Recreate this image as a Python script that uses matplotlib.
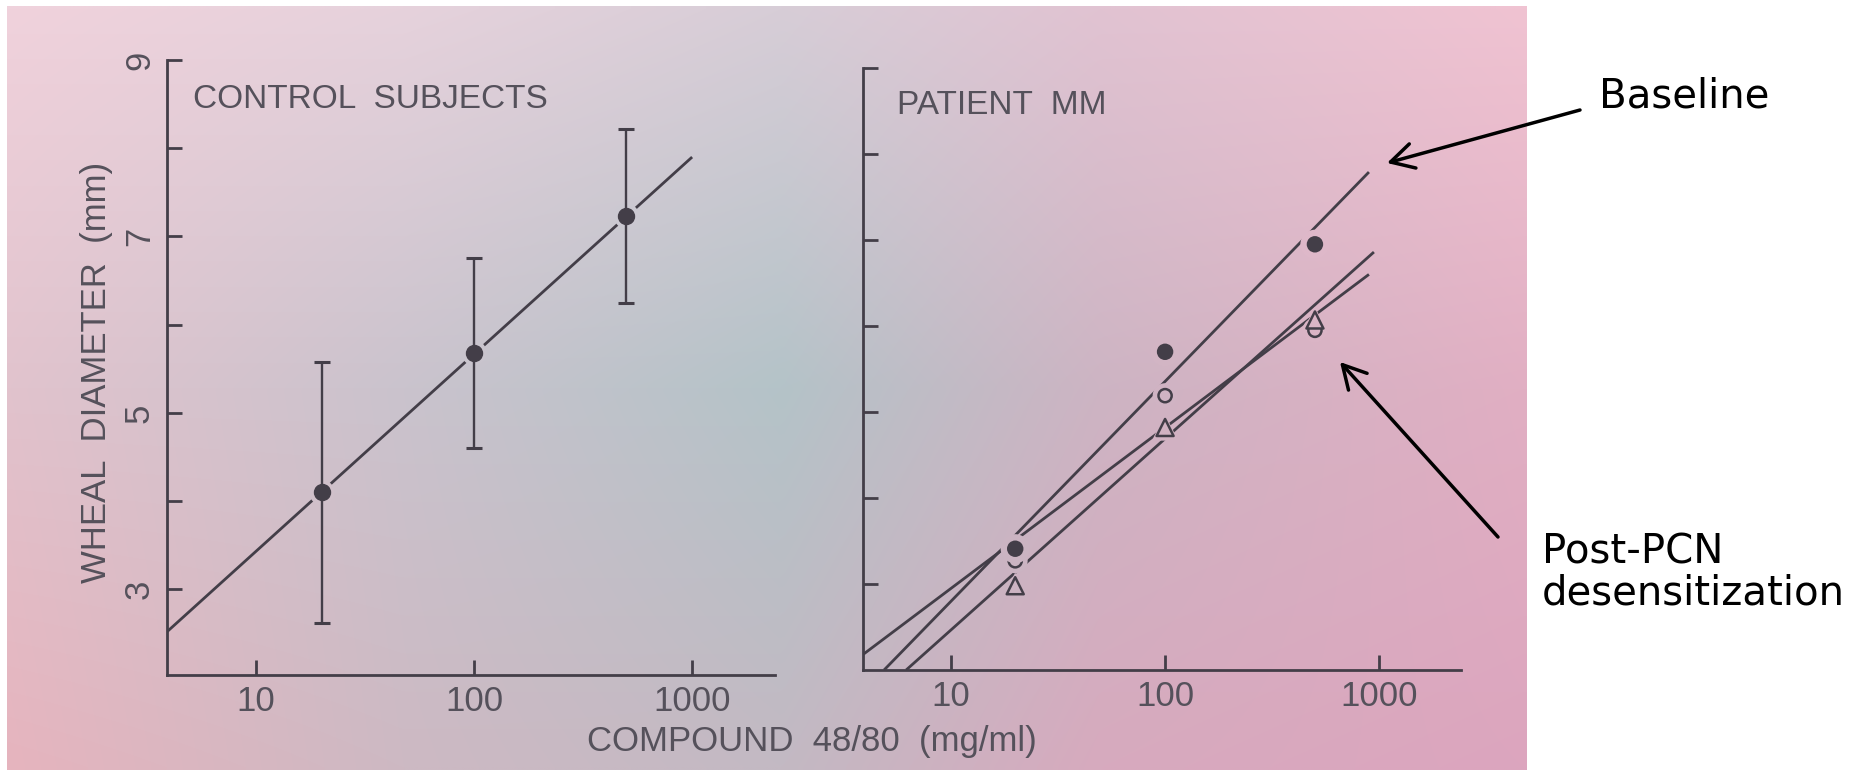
import numpy as np
import matplotlib
matplotlib.use("Agg")
import matplotlib.pyplot as plt
from matplotlib.ticker import NullLocator, FixedLocator
from matplotlib.patches import FancyArrowPatch

# ---------------- data ----------------
conc_ctrl = [20, 100, 500]
wheal_ctrl = [4.1, 5.68, 7.23]
err_hi_ctrl = [5.58, 6.76, 8.22]
err_lo_ctrl = [2.62, 4.6, 6.25]
ctrl_fit_x = [3.9, 1000]
ctrl_fit_y = [2.52, 7.9]

conc_mm = [20, 100, 500]
baseline_mm = [3.41, 5.70, 6.95]
post_open_mm = [3.27, 5.19, 5.95]
post_tri_mm = [2.98, 4.82, 6.07]
base_fit_x = [4.89, 893]
base_fit_y = [2.0, 7.79]
open_fit_x = [3.9, 893]
open_fit_y = [2.18, 6.6]
tri_fit_x = [6.2, 942]
tri_fit_y = [2.0, 6.86]

x_ticks = [10, 100, 1000]
x_ticklabels = ["10", "100", "1000"]
y_ticks = [3, 4, 5, 6, 7, 8, 9]
y_ticklabels = ["3", "", "5", "", "7", "", "9"]

# ---------------- figure ----------------
W, H = 1864, 770
fig = plt.figure(figsize=(W / 100, H / 100), dpi=100)
fig.patch.set_facecolor("white")


def fx(px):
    return px / W


def fy(py):
    return 1 - py / H


# photo-like background gradient
PH_L, PH_T, PH_R, PH_B = 7, 6, 1527, 770
bg_cols = [0.0, 0.26, 0.51, 0.72, 1.0]
bg_rows = [0.0, 0.5, 1.0]
bg_rgb = np.array([
    [[240, 210, 220], [230, 210, 220], [215, 205, 215], [225, 195, 210], [240, 195, 210]],
    [[225, 195, 205], [202, 195, 205], [180, 195, 200], [205, 180, 195], [225, 175, 195]],
    [[230, 180, 190], [205, 185, 195], [195, 185, 195], [215, 170, 190], [220, 165, 190]],
]) / 255.0


def bg_at(u, v):
    rows = np.array([[np.interp(u, bg_cols, bg_rgb[r, :, c]) for c in range(3)] for r in range(3)])
    return np.array([np.interp(v, bg_rows, rows[:, c]) for c in range(3)])


nu, nv = 300, 150
us = np.linspace(0, 1, nu)
vs = np.linspace(0, 1, nv)
row_interp = np.stack([np.stack([np.interp(us, bg_cols, bg_rgb[r, :, c]) for c in range(3)], axis=-1)
                       for r in range(3)])  # (3, nu, 3)
img = np.empty((nv, nu, 3))
for j, v in enumerate(vs):
    for c in range(3):
        img[j, :, c] = [np.interp(v, bg_rows, row_interp[:, i, c]) for i in range(nu)]

ax_bg = fig.add_axes([fx(PH_L), fy(PH_B), fx(PH_R) - fx(PH_L), fy(PH_T) - fy(PH_B)], zorder=-5)
ax_bg.imshow(img, aspect="auto", extent=[0, 1, 1, 0], interpolation="bilinear")
ax_bg.set_axis_off()

INK = "#433e48"
TXT = "#55515b"
FONT = "Liberation Sans"
LW = 2.0


def style_axes(ax, ylim, labels):
    ax.set_facecolor("none")
    ax.set_xscale("log")
    ax.set_xlim(3.9, 2400)
    ax.set_ylim(*ylim)
    for s in ["top", "right"]:
        ax.spines[s].set_visible(False)
    for s in ["left", "bottom"]:
        ax.spines[s].set_linewidth(LW)
        ax.spines[s].set_color(INK)
    ax.xaxis.set_major_locator(FixedLocator(x_ticks))
    ax.xaxis.set_minor_locator(NullLocator())
    ax.set_xticklabels(x_ticklabels)
    ax.set_yticks(y_ticks)
    ax.set_yticklabels(y_ticklabels if labels else [""] * len(y_ticks))
    ax.tick_params(axis="both", direction="in", length=11, width=LW, color=INK,
                   labelcolor=TXT, labelsize=25)
    ax.tick_params(axis="x", pad=7)
    ax.tick_params(axis="y", pad=8, labelrotation=90)
    for lab in ax.get_xticklabels():
        lab.set_fontfamily(FONT)
        lab.set_verticalalignment("top")
    for lab in ax.get_yticklabels():
        lab.set_fontfamily(FONT)
        lab.set_verticalalignment("center")


ax1 = fig.add_axes([fx(167), fy(675), fx(775) - fx(167), fy(60) - fy(675)])
ax2 = fig.add_axes([fx(863), fy(670), fx(1461) - fx(863), fy(68) - fy(670)])
style_axes(ax1, (2.03, 9), True)
style_axes(ax2, (2.0, 9), False)


def bg_colors(ax, xs, ys):
    pts = ax.transData.transform(np.column_stack([xs, ys]))
    cols = []
    for px, py in pts:
        u = (px - PH_L) / (PH_R - PH_L)
        v = ((H - py) - PH_T) / (PH_B - PH_T)
        cols.append(bg_at(np.clip(u, 0, 1), np.clip(v, 0, 1)))
    return np.array(cols)


# ---- left panel ----
ax1.plot(ctrl_fit_x, ctrl_fit_y, color=INK, lw=LW, zorder=2, solid_capstyle="butt")
hc = bg_colors(ax1, conc_ctrl, wheal_ctrl)
ax1.scatter(conc_ctrl, wheal_ctrl, s=330, c=hc, edgecolors="none", zorder=2.5)
yerr = [np.array(wheal_ctrl) - np.array(err_lo_ctrl), np.array(err_hi_ctrl) - np.array(wheal_ctrl)]
ax1.errorbar(conc_ctrl, wheal_ctrl, yerr=yerr, fmt="o", ms=11.5, color=INK, mfc=INK, mec=INK,
             elinewidth=1.7, capsize=6, capthick=2.2, zorder=3)

# ---- right panel ----
ax2.plot(base_fit_x, base_fit_y, color=INK, lw=LW, zorder=2, solid_capstyle="butt")
ax2.plot(open_fit_x, open_fit_y, color=INK, lw=LW, zorder=2, solid_capstyle="butt")
ax2.plot(tri_fit_x, tri_fit_y, color=INK, lw=LW, zorder=2, solid_capstyle="butt")

oc = bg_colors(ax2, conc_mm, post_open_mm)
tc = bg_colors(ax2, conc_mm, post_tri_mm)
bc = bg_colors(ax2, conc_mm, baseline_mm)
ax2.scatter(conc_mm, post_open_mm, s=320, c=oc, edgecolors="none", zorder=3)
ax2.scatter(conc_mm, post_tri_mm, s=360, marker="^", c=tc, edgecolors="none", zorder=3)
ax2.scatter(conc_mm, post_open_mm, s=90, c=oc, edgecolors=INK, linewidths=1.8, zorder=4)
ax2.scatter(conc_mm, post_tri_mm, s=150, marker="^", c=tc, edgecolors=INK, linewidths=1.8, zorder=4)
ax2.scatter(conc_mm, baseline_mm, s=440, c=bc, edgecolors="none", zorder=5)
ax2.scatter(conc_mm, baseline_mm, s=140, c=INK, edgecolors="none", zorder=6)

# ---- texts ----
fig.text(fx(193), fy(100), "CONTROL  SUBJECTS", fontsize=24, family=FONT, color=TXT,
         ha="left", va="center")
fig.text(fx(897), fy(105), "PATIENT  MM", fontsize=24, family=FONT, color=TXT,
         ha="left", va="center")
fig.text(fx(97), fy(372), "WHEAL  DIAMETER  (mm)", fontsize=25, family=FONT, color=TXT,
         ha="center", va="center", rotation=90)
fig.text(fx(812), fy(742), "COMPOUND  48/80  (mg/ml)", fontsize=25, family=FONT, color=TXT,
         ha="center", va="center")

fig.text(fx(1599), fy(97), "Baseline", fontsize=29, family="DejaVu Sans", color="black",
         ha="left", va="center")
fig.text(fx(1542), fy(573), "Post-PCN\ndesensitization", fontsize=29, family="DejaVu Sans",
         color="black", ha="left", va="center", linespacing=1.05)

for (x0, y0), (x1, y1) in [((1580, 110), (1387, 163)), ((1498, 537), (1340, 362))]:
    arr = FancyArrowPatch((fx(x0), fy(y0)), (fx(x1), fy(y1)), transform=fig.transFigure,
                          arrowstyle="->,head_length=0.55,head_width=0.3", mutation_scale=30,
                          lw=2.5, color="black", shrinkA=0, shrinkB=0)
    fig.add_artist(arr)

fig.savefig("out.png", dpi=100)
